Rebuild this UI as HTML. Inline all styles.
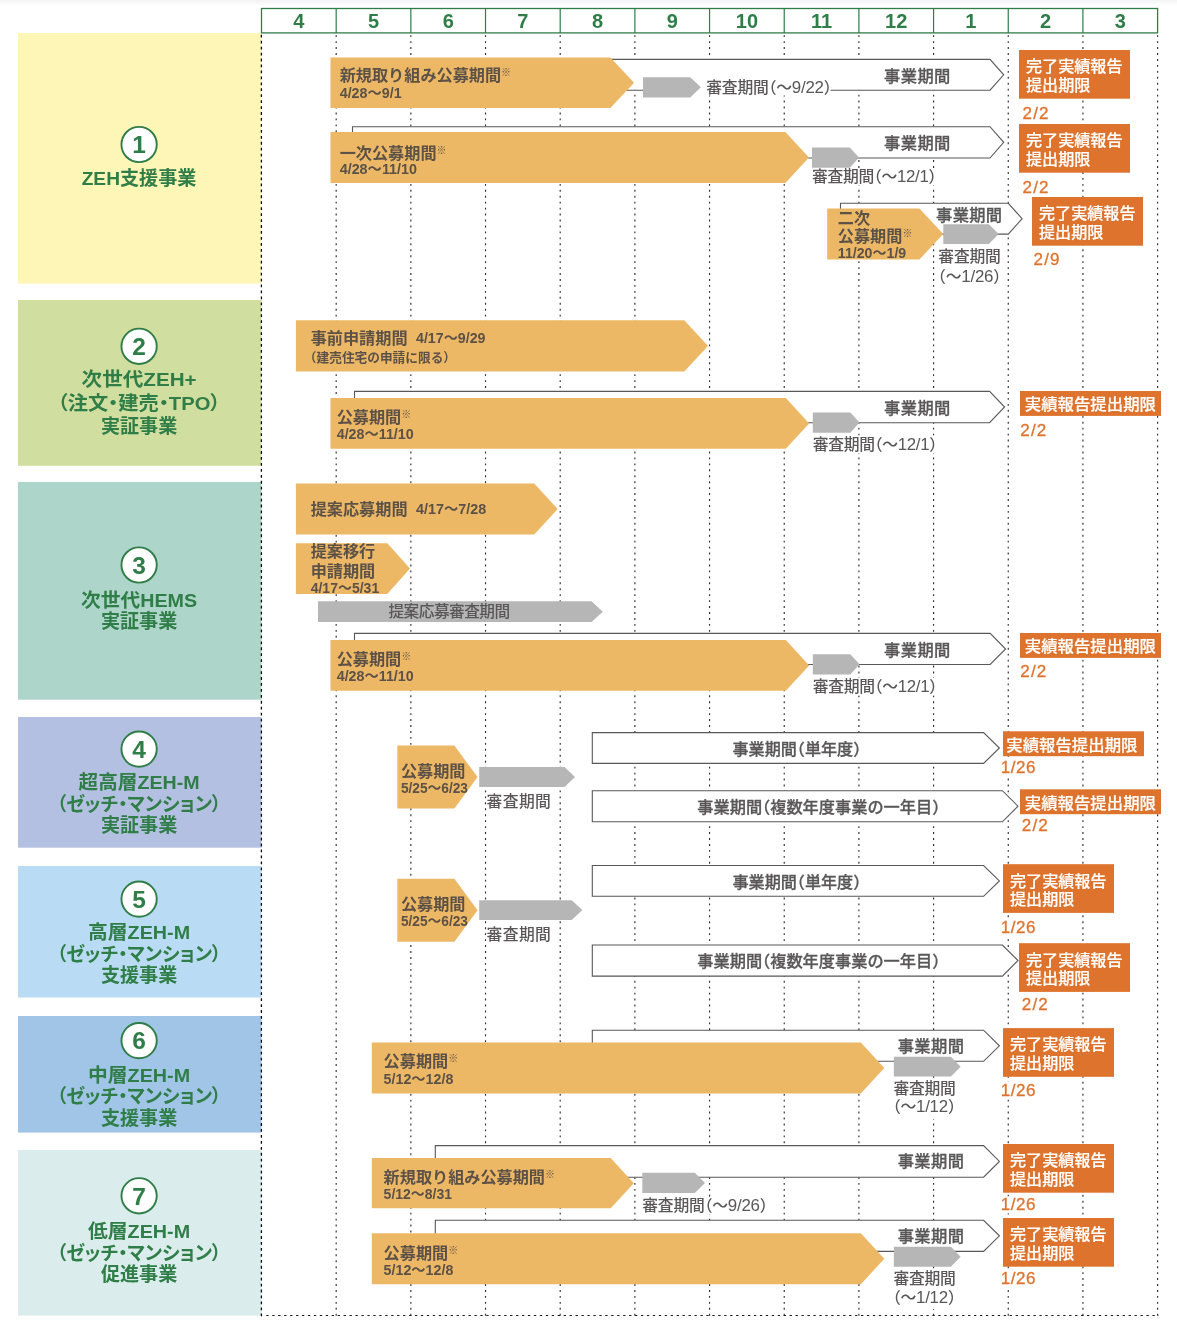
<!DOCTYPE html>
<html lang="ja"><head><meta charset="utf-8"><title>スケジュール</title>
<style>html,body{margin:0;padding:0;background:#fff}svg{display:block}</style></head>
<body>
<svg width="1177" height="1325" viewBox="0 0 1177 1325" font-family='"Liberation Sans","Noto Sans CJK JP",sans-serif'>
<defs><linearGradient id="tg" x1="0" y1="0" x2="0" y2="1"><stop offset="0" stop-color="#f3f3f3"/><stop offset="1" stop-color="#ffffff"/></linearGradient></defs>
<rect x="0" y="0" width="1177" height="6" fill="url(#tg)"/>
<rect x="18" y="33" width="243.5" height="250.6" fill="#fdf6b6"/>
<rect x="18" y="300" width="243.5" height="165.8" fill="#d0de9f"/>
<rect x="18" y="482" width="243.5" height="217.7" fill="#aed5c9"/>
<rect x="18" y="717" width="243.5" height="130.7" fill="#b4c0e1"/>
<rect x="18" y="866" width="243.5" height="131.5" fill="#b9dcf4"/>
<rect x="18" y="1016" width="243.5" height="116.6" fill="#a0c5e7"/>
<rect x="18" y="1150" width="243.5" height="165.5" fill="#daecec"/>
<line x1="261.40" y1="34.8" x2="261.40" y2="1316.4" stroke="#0a0a0a" stroke-width="1.3" stroke-dasharray="2.8 3.147"/>
<line x1="336.18" y1="35.2" x2="336.18" y2="1316" stroke="#2e2e2e" stroke-width="1.15" stroke-dasharray="1.9 4.047"/>
<line x1="410.85" y1="35.2" x2="410.85" y2="1316" stroke="#2e2e2e" stroke-width="1.15" stroke-dasharray="1.9 4.047"/>
<line x1="485.52" y1="35.2" x2="485.52" y2="1316" stroke="#2e2e2e" stroke-width="1.15" stroke-dasharray="1.9 4.047"/>
<line x1="560.20" y1="35.2" x2="560.20" y2="1316" stroke="#2e2e2e" stroke-width="1.15" stroke-dasharray="1.9 4.047"/>
<line x1="634.88" y1="35.2" x2="634.88" y2="1316" stroke="#2e2e2e" stroke-width="1.15" stroke-dasharray="1.9 4.047"/>
<line x1="709.55" y1="35.2" x2="709.55" y2="1316" stroke="#2e2e2e" stroke-width="1.15" stroke-dasharray="1.9 4.047"/>
<line x1="784.23" y1="35.2" x2="784.23" y2="1316" stroke="#2e2e2e" stroke-width="1.15" stroke-dasharray="1.9 4.047"/>
<line x1="858.90" y1="35.2" x2="858.90" y2="1316" stroke="#2e2e2e" stroke-width="1.15" stroke-dasharray="1.9 4.047"/>
<line x1="933.57" y1="35.2" x2="933.57" y2="1316" stroke="#2e2e2e" stroke-width="1.15" stroke-dasharray="1.9 4.047"/>
<line x1="1008.25" y1="35.2" x2="1008.25" y2="1316" stroke="#2e2e2e" stroke-width="1.15" stroke-dasharray="1.9 4.047"/>
<line x1="1082.92" y1="35.2" x2="1082.92" y2="1316" stroke="#2e2e2e" stroke-width="1.15" stroke-dasharray="1.9 4.047"/>
<line x1="1157.60" y1="35.2" x2="1157.60" y2="1316" stroke="#2e2e2e" stroke-width="1.15" stroke-dasharray="1.9 4.047"/>
<line x1="266.30" y1="1315.5" x2="1158.6" y2="1315.5" stroke="#1a1a1a" stroke-width="1.05" stroke-dasharray="2.3 3.647"/>
<rect x="261.5" y="8.5" width="896.1" height="24.4" fill="#fff" stroke="#2f7d47" stroke-width="1.3"/>
<line x1="336.18" y1="8.5" x2="336.18" y2="32.9" stroke="#2f7d47" stroke-width="1.2"/>
<line x1="410.85" y1="8.5" x2="410.85" y2="32.9" stroke="#2f7d47" stroke-width="1.2"/>
<line x1="485.52" y1="8.5" x2="485.52" y2="32.9" stroke="#2f7d47" stroke-width="1.2"/>
<line x1="560.20" y1="8.5" x2="560.20" y2="32.9" stroke="#2f7d47" stroke-width="1.2"/>
<line x1="634.88" y1="8.5" x2="634.88" y2="32.9" stroke="#2f7d47" stroke-width="1.2"/>
<line x1="709.55" y1="8.5" x2="709.55" y2="32.9" stroke="#2f7d47" stroke-width="1.2"/>
<line x1="784.23" y1="8.5" x2="784.23" y2="32.9" stroke="#2f7d47" stroke-width="1.2"/>
<line x1="858.90" y1="8.5" x2="858.90" y2="32.9" stroke="#2f7d47" stroke-width="1.2"/>
<line x1="933.57" y1="8.5" x2="933.57" y2="32.9" stroke="#2f7d47" stroke-width="1.2"/>
<line x1="1008.25" y1="8.5" x2="1008.25" y2="32.9" stroke="#2f7d47" stroke-width="1.2"/>
<line x1="1082.92" y1="8.5" x2="1082.92" y2="32.9" stroke="#2f7d47" stroke-width="1.2"/>
<text x="298.8" y="27.7" font-size="20" fill="#2f7d47" font-weight="700" text-anchor="middle">4</text>
<text x="373.5" y="27.7" font-size="20" fill="#2f7d47" font-weight="700" text-anchor="middle">5</text>
<text x="448.2" y="27.7" font-size="20" fill="#2f7d47" font-weight="700" text-anchor="middle">6</text>
<text x="522.9" y="27.7" font-size="20" fill="#2f7d47" font-weight="700" text-anchor="middle">7</text>
<text x="597.5" y="27.7" font-size="20" fill="#2f7d47" font-weight="700" text-anchor="middle">8</text>
<text x="672.2" y="27.7" font-size="20" fill="#2f7d47" font-weight="700" text-anchor="middle">9</text>
<text x="746.9" y="27.7" font-size="20" fill="#2f7d47" font-weight="700" text-anchor="middle">10</text>
<text x="821.6" y="27.7" font-size="20" fill="#2f7d47" font-weight="700" text-anchor="middle">11</text>
<text x="896.2" y="27.7" font-size="20" fill="#2f7d47" font-weight="700" text-anchor="middle">12</text>
<text x="970.9" y="27.7" font-size="20" fill="#2f7d47" font-weight="700" text-anchor="middle">1</text>
<text x="1045.6" y="27.7" font-size="20" fill="#2f7d47" font-weight="700" text-anchor="middle">2</text>
<text x="1120.3" y="27.7" font-size="20" fill="#2f7d47" font-weight="700" text-anchor="middle">3</text>
<circle cx="139.1" cy="144.5" r="17.65" fill="#fff" stroke="#2f7d47" stroke-width="1.9"/>
<text x="139.1" y="153.3" font-size="24.5" fill="#2f7d47" font-weight="700" text-anchor="middle">1</text>
<text x="139.1" y="185.1" font-size="19.1" fill="#2f7d47" font-weight="700" text-anchor="middle" textLength="114.8" lengthAdjust="spacingAndGlyphs" style="font-feature-settings:'palt'">ZEH支援事業</text>
<circle cx="139.1" cy="346.3" r="17.65" fill="#fff" stroke="#2f7d47" stroke-width="1.9"/>
<text x="139.1" y="355.1" font-size="24.5" fill="#2f7d47" font-weight="700" text-anchor="middle">2</text>
<text x="139.1" y="386.4" font-size="19.1" fill="#2f7d47" font-weight="700" text-anchor="middle" textLength="115.0" lengthAdjust="spacingAndGlyphs" style="font-feature-settings:'palt'">次世代ZEH+</text>
<text x="139.1" y="410.0" font-size="19.1" fill="#2f7d47" font-weight="700" text-anchor="middle" textLength="163.0" lengthAdjust="spacingAndGlyphs" style="font-feature-settings:'palt'">（注文・建売・TPO）</text>
<text x="139.1" y="432.9" font-size="19.1" fill="#2f7d47" font-weight="700" text-anchor="middle" textLength="76.4" lengthAdjust="spacingAndGlyphs" style="font-feature-settings:'palt'">実証事業</text>
<circle cx="139.1" cy="565" r="17.65" fill="#fff" stroke="#2f7d47" stroke-width="1.9"/>
<text x="139.1" y="573.8" font-size="24.5" fill="#2f7d47" font-weight="700" text-anchor="middle">3</text>
<text x="139.1" y="607.4" font-size="19.1" fill="#2f7d47" font-weight="700" text-anchor="middle" textLength="116.0" lengthAdjust="spacingAndGlyphs" style="font-feature-settings:'palt'">次世代HEMS</text>
<text x="139.1" y="628.3" font-size="19.1" fill="#2f7d47" font-weight="700" text-anchor="middle" textLength="76.4" lengthAdjust="spacingAndGlyphs" style="font-feature-settings:'palt'">実証事業</text>
<circle cx="139.1" cy="749.1" r="17.65" fill="#fff" stroke="#2f7d47" stroke-width="1.9"/>
<text x="139.1" y="757.9" font-size="24.5" fill="#2f7d47" font-weight="700" text-anchor="middle">4</text>
<text x="139.1" y="788.9" font-size="19.1" fill="#2f7d47" font-weight="700" text-anchor="middle" textLength="121.0" lengthAdjust="spacingAndGlyphs" style="font-feature-settings:'palt'">超高層ZEH-M</text>
<text x="139.1" y="810.5" font-size="19.1" fill="#2f7d47" font-weight="700" text-anchor="middle" textLength="164.5" lengthAdjust="spacingAndGlyphs" style="font-feature-settings:'palt'">（ゼッチ・マンション）</text>
<text x="139.1" y="832.2" font-size="19.1" fill="#2f7d47" font-weight="700" text-anchor="middle" textLength="76.4" lengthAdjust="spacingAndGlyphs" style="font-feature-settings:'palt'">実証事業</text>
<circle cx="139.1" cy="899.1" r="17.65" fill="#fff" stroke="#2f7d47" stroke-width="1.9"/>
<text x="139.1" y="907.9" font-size="24.5" fill="#2f7d47" font-weight="700" text-anchor="middle">5</text>
<text x="139.1" y="939.4" font-size="19.1" fill="#2f7d47" font-weight="700" text-anchor="middle" textLength="102.0" lengthAdjust="spacingAndGlyphs" style="font-feature-settings:'palt'">高層ZEH-M</text>
<text x="139.1" y="961.0" font-size="19.1" fill="#2f7d47" font-weight="700" text-anchor="middle" textLength="164.5" lengthAdjust="spacingAndGlyphs" style="font-feature-settings:'palt'">（ゼッチ・マンション）</text>
<text x="139.1" y="982.2" font-size="19.1" fill="#2f7d47" font-weight="700" text-anchor="middle" textLength="76.4" lengthAdjust="spacingAndGlyphs" style="font-feature-settings:'palt'">支援事業</text>
<circle cx="139.1" cy="1040.6" r="17.65" fill="#fff" stroke="#2f7d47" stroke-width="1.9"/>
<text x="139.1" y="1049.4" font-size="24.5" fill="#2f7d47" font-weight="700" text-anchor="middle">6</text>
<text x="139.1" y="1081.6" font-size="19.1" fill="#2f7d47" font-weight="700" text-anchor="middle" textLength="102.0" lengthAdjust="spacingAndGlyphs" style="font-feature-settings:'palt'">中層ZEH-M</text>
<text x="139.1" y="1103.3" font-size="19.1" fill="#2f7d47" font-weight="700" text-anchor="middle" textLength="164.5" lengthAdjust="spacingAndGlyphs" style="font-feature-settings:'palt'">（ゼッチ・マンション）</text>
<text x="139.1" y="1124.9" font-size="19.1" fill="#2f7d47" font-weight="700" text-anchor="middle" textLength="76.4" lengthAdjust="spacingAndGlyphs" style="font-feature-settings:'palt'">支援事業</text>
<circle cx="139.1" cy="1195.8" r="17.65" fill="#fff" stroke="#2f7d47" stroke-width="1.9"/>
<text x="139.1" y="1204.6" font-size="24.5" fill="#2f7d47" font-weight="700" text-anchor="middle">7</text>
<text x="139.1" y="1238.1" font-size="19.1" fill="#2f7d47" font-weight="700" text-anchor="middle" textLength="102.0" lengthAdjust="spacingAndGlyphs" style="font-feature-settings:'palt'">低層ZEH-M</text>
<text x="139.1" y="1259.7" font-size="19.1" fill="#2f7d47" font-weight="700" text-anchor="middle" textLength="164.5" lengthAdjust="spacingAndGlyphs" style="font-feature-settings:'palt'">（ゼッチ・マンション）</text>
<text x="139.1" y="1281.4" font-size="19.1" fill="#2f7d47" font-weight="700" text-anchor="middle" textLength="76.4" lengthAdjust="spacingAndGlyphs" style="font-feature-settings:'palt'">促進事業</text>
<path d="M352.5 59.4H990.0L1003.7 74.8L990.0 90.2H352.5Z" fill="#fff" stroke="#595757" stroke-width="1.1"/>
<path d="M352.5 126.7H990.0L1003.7 142.3L990.0 158.0H352.5Z" fill="#fff" stroke="#595757" stroke-width="1.1"/>
<path d="M840.5 203.3H1008.3L1022.1 218.7L1008.3 234.1H840.5Z" fill="#fff" stroke="#595757" stroke-width="1.1"/>
<path d="M354.5 391.4H989.6L1004.6 407.0L989.6 422.7H354.5Z" fill="#fff" stroke="#595757" stroke-width="1.1"/>
<path d="M354.5 633.4H990.2L1005.6 649.0L990.2 664.5H354.5Z" fill="#fff" stroke="#595757" stroke-width="1.1"/>
<path d="M592.3 732.6H983.6L999.4 748.0L983.6 763.4H592.3Z" fill="#fff" stroke="#595757" stroke-width="1.1"/>
<path d="M592.3 790.7H1002.4L1018.0 806.2L1002.4 821.8H592.3Z" fill="#fff" stroke="#595757" stroke-width="1.1"/>
<path d="M592.3 865.5H983.6L999.4 880.9L983.6 896.3H592.3Z" fill="#fff" stroke="#595757" stroke-width="1.1"/>
<path d="M592.3 945.0H1002.4L1018.0 960.5L1002.4 976.1H592.3Z" fill="#fff" stroke="#595757" stroke-width="1.1"/>
<path d="M592.3 1030.2H983.6L999.4 1045.8L983.6 1061.3H592.3Z" fill="#fff" stroke="#595757" stroke-width="1.1"/>
<path d="M435.3 1145.6H983.6L999.4 1161.4L983.6 1177.2H435.3Z" fill="#fff" stroke="#595757" stroke-width="1.1"/>
<path d="M435.3 1220.3H983.6L999.4 1235.8L983.6 1251.4H435.3Z" fill="#fff" stroke="#595757" stroke-width="1.1"/>
<rect x="692" y="80" width="138.5" height="15.5" fill="#fff"/>
<rect x="811" y="168" width="125" height="17.5" fill="#fff"/>
<rect x="811.5" y="435.5" width="125" height="17.5" fill="#fff"/>
<rect x="811.5" y="678" width="125" height="17.5" fill="#fff"/>
<rect x="892" y="1079" width="64" height="40" fill="#fff"/>
<rect x="641" y="1197" width="126" height="17.5" fill="#fff"/>
<rect x="892" y="1269" width="64" height="40" fill="#fff"/>
<path d="M330.5 57.4H610.4L634.1 82.7L610.4 108.0H330.5Z" fill="#edb866"/>
<path d="M330.5 132.0H785.4L809.0 157.5L785.4 183.0H330.5Z" fill="#edb866"/>
<path d="M827.2 208.5H919.4L943.2 234.0L919.4 259.5H827.2Z" fill="#edb866"/>
<path d="M295.9 320.3H684.3L708.0 345.9L684.3 371.5H295.9Z" fill="#edb866"/>
<path d="M330.5 398.0H785.8L809.2 423.4L785.8 448.8H330.5Z" fill="#edb866"/>
<path d="M295.9 483.4H534.2L557.7 508.9L534.2 534.4H295.9Z" fill="#edb866"/>
<path d="M295.9 543.3H387.3L410.0 568.6L387.3 593.9H295.9Z" fill="#edb866"/>
<path d="M330.5 640.0H785.8L809.2 665.4L785.8 690.8H330.5Z" fill="#edb866"/>
<path d="M397.3 745.6H454.4L477.6 777.1L454.4 808.6H397.3Z" fill="#edb866"/>
<path d="M397.3 878.7H454.4L477.6 910.2L454.4 941.8H397.3Z" fill="#edb866"/>
<path d="M371.8 1042.5H860.8L884.3 1068.0L860.8 1093.5H371.8Z" fill="#edb866"/>
<path d="M371.8 1158.0H610.7L633.8 1183.2L610.7 1208.3H371.8Z" fill="#edb866"/>
<path d="M371.8 1233.3H860.8L884.3 1258.8L860.8 1284.2H371.8Z" fill="#edb866"/>
<path d="M643.0 77.2H690.2L700.9 87.3L690.2 97.4H643.0Z" fill="#b5b6b5"/>
<path d="M812.0 147.4H849.8L859.0 157.6L849.8 167.7H812.0Z" fill="#b5b6b5"/>
<path d="M943.3 224.2H988.8L998.7 234.1L988.8 243.9H943.3Z" fill="#b5b6b5"/>
<path d="M812.8 412.6H850.3L859.5 422.6L850.3 432.7H812.8Z" fill="#b5b6b5"/>
<path d="M318.0 601.3H591.5L602.8 611.7L591.5 622.1H318.0Z" fill="#b5b6b5"/>
<path d="M812.8 654.3H850.3L859.5 664.3L850.3 674.4H812.8Z" fill="#b5b6b5"/>
<path d="M479.2 767.0H564.5L575.0 777.0L564.5 786.9H479.2Z" fill="#b5b6b5"/>
<path d="M479.2 900.2H571.7L582.4 910.1L571.7 920.1H479.2Z" fill="#b5b6b5"/>
<path d="M893.8 1056.7H950.9L960.6 1066.7L950.9 1076.6H893.8Z" fill="#b5b6b5"/>
<path d="M642.3 1172.8H694.8L705.0 1182.9L694.8 1193.0H642.3Z" fill="#b5b6b5"/>
<path d="M893.8 1246.8H950.9L960.6 1256.8L950.9 1266.7H893.8Z" fill="#b5b6b5"/>
<text x="339.7" y="80.6" font-size="16.15" font-weight="700" fill="#5c5147">新規取り組み公募期間<tspan font-size="10" font-weight="300" dy="-5">※</tspan></text>
<text x="339.7" y="97.5" font-size="14.4" fill="#5c5147" font-weight="700" textLength="62.0" lengthAdjust="spacingAndGlyphs">4/28～9/1</text>
<text x="339.7" y="159.1" font-size="16.15" font-weight="700" fill="#5c5147">一次公募期間<tspan font-size="10" font-weight="300" dy="-5">※</tspan></text>
<text x="339.7" y="174.2" font-size="14.4" fill="#5c5147" font-weight="700" textLength="77.3" lengthAdjust="spacingAndGlyphs">4/28～11/10</text>
<text x="837.8" y="223.5" font-size="16.15" font-weight="700" fill="#5c5147">二次</text>
<text x="837.8" y="241.6" font-size="16.15" font-weight="700" fill="#5c5147">公募期間<tspan font-size="10" font-weight="300" dy="-5">※</tspan></text>
<text x="837.8" y="258.3" font-size="14.4" fill="#5c5147" font-weight="700" textLength="68.4" lengthAdjust="spacingAndGlyphs">11/20～1/9</text>
<text x="310.7" y="343.5" font-size="16.15" font-weight="700" fill="#5c5147">事前申請期間</text>
<text x="416.0" y="343.0" font-size="14.4" fill="#5c5147" font-weight="700" textLength="69.5" lengthAdjust="spacingAndGlyphs">4/17～9/29</text>
<text x="310.2" y="361.9" font-size="12.6" fill="#5c5147" font-weight="700" textLength="139.5" lengthAdjust="spacingAndGlyphs" style="font-feature-settings:'halt'">（建売住宅の申請に限る）</text>
<text x="336.7" y="422.8" font-size="16.15" font-weight="700" fill="#5c5147">公募期間<tspan font-size="10" font-weight="300" dy="-5">※</tspan></text>
<text x="336.7" y="439.4" font-size="14.4" fill="#5c5147" font-weight="700" textLength="77.0" lengthAdjust="spacingAndGlyphs">4/28～11/10</text>
<text x="310.7" y="514.5" font-size="16.15" font-weight="700" fill="#5c5147">提案応募期間</text>
<text x="416.0" y="514.0" font-size="14.4" fill="#5c5147" font-weight="700" textLength="70.3" lengthAdjust="spacingAndGlyphs">4/17～7/28</text>
<text x="310.7" y="557.4" font-size="16.15" font-weight="700" fill="#5c5147">提案移行</text>
<text x="310.7" y="576.5" font-size="16.15" font-weight="700" fill="#5c5147">申請期間</text>
<text x="310.7" y="593.2" font-size="14.4" fill="#5c5147" font-weight="700" textLength="68.5" lengthAdjust="spacingAndGlyphs">4/17～5/31</text>
<text x="388.4" y="616.5" font-size="15.7" fill="#595757" font-weight="500" textLength="121.8" lengthAdjust="spacing">提案応募審査期間</text>
<text x="336.7" y="664.8" font-size="16.15" font-weight="700" fill="#5c5147">公募期間<tspan font-size="10" font-weight="300" dy="-5">※</tspan></text>
<text x="336.7" y="681.2" font-size="14.4" fill="#5c5147" font-weight="700" textLength="77.0" lengthAdjust="spacingAndGlyphs">4/28～11/10</text>
<text x="400.9" y="776.9" font-size="16.15" font-weight="700" fill="#5c5147">公募期間</text>
<text x="400.9" y="793.3" font-size="14.4" fill="#5c5147" font-weight="700" textLength="67.1" lengthAdjust="spacingAndGlyphs">5/25～6/23</text>
<text x="400.9" y="909.6" font-size="16.15" font-weight="700" fill="#5c5147">公募期間</text>
<text x="400.9" y="926.3" font-size="14.4" fill="#5c5147" font-weight="700" textLength="67.1" lengthAdjust="spacingAndGlyphs">5/25～6/23</text>
<text x="383.6" y="1067.2" font-size="16.15" font-weight="700" fill="#5c5147">公募期間<tspan font-size="10" font-weight="300" dy="-5">※</tspan></text>
<text x="383.6" y="1084.3" font-size="14.4" fill="#5c5147" font-weight="700" textLength="69.8" lengthAdjust="spacingAndGlyphs">5/12～12/8</text>
<text x="383.6" y="1182.6" font-size="16.15" font-weight="700" fill="#5c5147">新規取り組み公募期間<tspan font-size="10" font-weight="300" dy="-5">※</tspan></text>
<text x="383.6" y="1199.2" font-size="14.4" fill="#5c5147" font-weight="700" textLength="68.5" lengthAdjust="spacingAndGlyphs">5/12～8/31</text>
<text x="383.6" y="1258.5" font-size="16.15" font-weight="700" fill="#5c5147">公募期間<tspan font-size="10" font-weight="300" dy="-5">※</tspan></text>
<text x="383.6" y="1274.9" font-size="14.4" fill="#5c5147" font-weight="700" textLength="69.8" lengthAdjust="spacingAndGlyphs">5/12～12/8</text>
<text x="884.1" y="82.0" font-size="16.3" fill="#595757" font-weight="500" stroke="#595757" stroke-width="0.3" textLength="66.3" lengthAdjust="spacing">事業期間</text>
<text x="884.1" y="148.8" font-size="16.3" fill="#595757" font-weight="500" stroke="#595757" stroke-width="0.3" textLength="66.3" lengthAdjust="spacing">事業期間</text>
<text x="936.1" y="221.1" font-size="16.3" fill="#595757" font-weight="500" stroke="#595757" stroke-width="0.3" textLength="65.9" lengthAdjust="spacing">事業期間</text>
<text x="884.1" y="414.0" font-size="16.3" fill="#595757" font-weight="500" stroke="#595757" stroke-width="0.3" textLength="66.3" lengthAdjust="spacing">事業期間</text>
<text x="884.1" y="655.7" font-size="16.3" fill="#595757" font-weight="500" stroke="#595757" stroke-width="0.3" textLength="66.3" lengthAdjust="spacing">事業期間</text>
<text x="897.7" y="1052.0" font-size="16.3" fill="#595757" font-weight="500" stroke="#595757" stroke-width="0.3" textLength="66.3" lengthAdjust="spacing">事業期間</text>
<text x="897.7" y="1167.4" font-size="16.3" fill="#595757" font-weight="500" stroke="#595757" stroke-width="0.3" textLength="66.3" lengthAdjust="spacing">事業期間</text>
<text x="897.7" y="1241.8" font-size="16.3" fill="#595757" font-weight="500" stroke="#595757" stroke-width="0.3" textLength="66.3" lengthAdjust="spacing">事業期間</text>
<text x="732.5" y="755.1" font-size="16.1" fill="#595757" font-weight="500" stroke="#595757" stroke-width="0.3" style="font-feature-settings:'halt'">事業期間（単年度）</text>
<text x="732.5" y="887.6" font-size="16.1" fill="#595757" font-weight="500" stroke="#595757" stroke-width="0.3" style="font-feature-settings:'halt'">事業期間（単年度）</text>
<text x="697.3" y="813.3" font-size="16.1" fill="#595757" font-weight="500" textLength="243.0" lengthAdjust="spacingAndGlyphs" stroke="#595757" stroke-width="0.3" style="font-feature-settings:'halt'">事業期間（複数年度事業の一年目）</text>
<text x="697.3" y="967.1" font-size="16.1" fill="#595757" font-weight="500" textLength="243.0" lengthAdjust="spacingAndGlyphs" stroke="#595757" stroke-width="0.3" style="font-feature-settings:'halt'">事業期間（複数年度事業の一年目）</text>
<text x="706.3" y="92.7" font-size="15.8" fill="#595757" font-weight="500" style="font-feature-settings:'halt'" textLength="125.3" lengthAdjust="spacing">審査期間（～<tspan font-size="16.9">9/22</tspan>）</text>
<text x="812.0" y="182.2" font-size="15.8" fill="#595757" font-weight="500" style="font-feature-settings:'halt'" textLength="124.4" lengthAdjust="spacing">審査期間（～<tspan font-size="16.9">12/1</tspan>）</text>
<text x="938.3" y="262.2" font-size="15.8" fill="#595757" font-weight="500" style="font-feature-settings:'halt'" textLength="62.6" lengthAdjust="spacing">審査期間</text>
<text x="938.0" y="281.9" font-size="15.8" fill="#595757" font-weight="500" style="font-feature-settings:'halt'" textLength="63.2" lengthAdjust="spacing">（～<tspan font-size="16.9">1/26</tspan>）</text>
<text x="812.8" y="450.1" font-size="15.8" fill="#595757" font-weight="500" style="font-feature-settings:'halt'" textLength="124.4" lengthAdjust="spacing">審査期間（～<tspan font-size="16.9">12/1</tspan>）</text>
<text x="812.8" y="692.4" font-size="15.8" fill="#595757" font-weight="500" style="font-feature-settings:'halt'" textLength="124.4" lengthAdjust="spacing">審査期間（～<tspan font-size="16.9">12/1</tspan>）</text>
<text x="486.6" y="807.3" font-size="15.8" fill="#595757" font-weight="500" style="font-feature-settings:'halt'" textLength="64.3" lengthAdjust="spacing">審査期間</text>
<text x="486.6" y="940.2" font-size="15.8" fill="#595757" font-weight="500" style="font-feature-settings:'halt'" textLength="64.3" lengthAdjust="spacing">審査期間</text>
<text x="893.4" y="1093.7" font-size="15.8" fill="#595757" font-weight="500" style="font-feature-settings:'halt'" textLength="62.5" lengthAdjust="spacing">審査期間</text>
<text x="892.8" y="1112.3" font-size="15.8" fill="#595757" font-weight="500" style="font-feature-settings:'halt'" textLength="63.0" lengthAdjust="spacing">（～<tspan font-size="16.9">1/12</tspan>）</text>
<text x="642.3" y="1211.4" font-size="15.8" fill="#595757" font-weight="500" style="font-feature-settings:'halt'" textLength="125.3" lengthAdjust="spacing">審査期間（～<tspan font-size="16.9">9/26</tspan>）</text>
<text x="893.4" y="1283.8" font-size="15.8" fill="#595757" font-weight="500" style="font-feature-settings:'halt'" textLength="62.5" lengthAdjust="spacing">審査期間</text>
<text x="892.8" y="1303.3" font-size="15.8" fill="#595757" font-weight="500" style="font-feature-settings:'halt'" textLength="63.0" lengthAdjust="spacing">（～<tspan font-size="16.9">1/12</tspan>）</text>
<rect x="1019.0" y="50.0" width="111" height="48.7" fill="#de732d"/>
<text x="1026.0" y="72.3" font-size="16.1" fill="#fff" font-weight="500" stroke="#fff" stroke-width="0.2">完了実績報告</text>
<text x="1026.0" y="91.1" font-size="16.1" fill="#fff" font-weight="500" stroke="#fff" stroke-width="0.2">提出期限</text>
<rect x="1022.0" y="105.1" width="26.5" height="17" fill="#fff"/>
<text x="1022.5" y="118.8" font-size="17" fill="#de732d" font-weight="400" letter-spacing="1.2" stroke="#de732d" stroke-width="0.3">2/2</text>
<rect x="1019.0" y="124.0" width="111" height="48.7" fill="#de732d"/>
<text x="1026.0" y="146.3" font-size="16.1" fill="#fff" font-weight="500" stroke="#fff" stroke-width="0.2">完了実績報告</text>
<text x="1026.0" y="165.1" font-size="16.1" fill="#fff" font-weight="500" stroke="#fff" stroke-width="0.2">提出期限</text>
<rect x="1022.0" y="179.0" width="26.5" height="17" fill="#fff"/>
<text x="1022.5" y="192.7" font-size="17" fill="#de732d" font-weight="400" letter-spacing="1.2" stroke="#de732d" stroke-width="0.3">2/2</text>
<rect x="1032.0" y="197.0" width="111" height="48.7" fill="#de732d"/>
<text x="1039.0" y="219.3" font-size="16.1" fill="#fff" font-weight="500" stroke="#fff" stroke-width="0.2">完了実績報告</text>
<text x="1039.0" y="238.1" font-size="16.1" fill="#fff" font-weight="500" stroke="#fff" stroke-width="0.2">提出期限</text>
<rect x="1033.0" y="250.8" width="26.5" height="17" fill="#fff"/>
<text x="1033.5" y="264.5" font-size="17" fill="#de732d" font-weight="400" letter-spacing="1.2" stroke="#de732d" stroke-width="0.3">2/9</text>
<rect x="1020.0" y="391.0" width="141" height="24.9" fill="#de732d"/>
<text x="1024.8" y="410.2" font-size="16.4" fill="#fff" font-weight="500" stroke="#fff" stroke-width="0.2">実績報告提出期限</text>
<rect x="1019.8" y="422.0" width="26.5" height="17" fill="#fff"/>
<text x="1020.3" y="435.7" font-size="17" fill="#de732d" font-weight="400" letter-spacing="1.2" stroke="#de732d" stroke-width="0.3">2/2</text>
<rect x="1020.0" y="633.0" width="141" height="24.9" fill="#de732d"/>
<text x="1024.8" y="652.2" font-size="16.4" fill="#fff" font-weight="500" stroke="#fff" stroke-width="0.2">実績報告提出期限</text>
<rect x="1019.8" y="663.0" width="26.5" height="17" fill="#fff"/>
<text x="1020.3" y="676.7" font-size="17" fill="#de732d" font-weight="400" letter-spacing="1.2" stroke="#de732d" stroke-width="0.3">2/2</text>
<rect x="1003.0" y="731.3" width="141" height="24.9" fill="#de732d"/>
<text x="1006.3" y="750.5" font-size="16.4" fill="#fff" font-weight="500" stroke="#fff" stroke-width="0.2">実績報告提出期限</text>
<rect x="1000.3" y="758.8" width="34.5" height="17" fill="#fff"/>
<text x="1000.8" y="772.5" font-size="17" fill="#de732d" font-weight="400" letter-spacing="0.55" stroke="#de732d" stroke-width="0.3">1/26</text>
<rect x="1020.0" y="789.3" width="141" height="24.9" fill="#de732d"/>
<text x="1024.8" y="808.5" font-size="16.4" fill="#fff" font-weight="500" stroke="#fff" stroke-width="0.2">実績報告提出期限</text>
<rect x="1021.3" y="817.5" width="26.5" height="17" fill="#fff"/>
<text x="1021.8" y="831.2" font-size="17" fill="#de732d" font-weight="400" letter-spacing="1.2" stroke="#de732d" stroke-width="0.3">2/2</text>
<rect x="1003.0" y="864.2" width="111" height="48.7" fill="#de732d"/>
<text x="1010.0" y="886.5" font-size="16.1" fill="#fff" font-weight="500" stroke="#fff" stroke-width="0.2">完了実績報告</text>
<text x="1010.0" y="905.3" font-size="16.1" fill="#fff" font-weight="500" stroke="#fff" stroke-width="0.2">提出期限</text>
<rect x="1000.3" y="918.8" width="34.5" height="17" fill="#fff"/>
<text x="1000.8" y="932.5" font-size="17" fill="#de732d" font-weight="400" letter-spacing="0.55" stroke="#de732d" stroke-width="0.3">1/26</text>
<rect x="1019.0" y="943.2" width="111" height="48.7" fill="#de732d"/>
<text x="1026.0" y="965.5" font-size="16.1" fill="#fff" font-weight="500" stroke="#fff" stroke-width="0.2">完了実績報告</text>
<text x="1026.0" y="984.3" font-size="16.1" fill="#fff" font-weight="500" stroke="#fff" stroke-width="0.2">提出期限</text>
<rect x="1021.3" y="995.8" width="26.5" height="17" fill="#fff"/>
<text x="1021.8" y="1009.5" font-size="17" fill="#de732d" font-weight="400" letter-spacing="1.2" stroke="#de732d" stroke-width="0.3">2/2</text>
<rect x="1003.0" y="1028.1" width="111" height="48.7" fill="#de732d"/>
<text x="1010.0" y="1050.4" font-size="16.1" fill="#fff" font-weight="500" stroke="#fff" stroke-width="0.2">完了実績報告</text>
<text x="1010.0" y="1069.2" font-size="16.1" fill="#fff" font-weight="500" stroke="#fff" stroke-width="0.2">提出期限</text>
<rect x="1000.3" y="1081.9" width="34.5" height="17" fill="#fff"/>
<text x="1000.8" y="1095.6" font-size="17" fill="#de732d" font-weight="400" letter-spacing="0.55" stroke="#de732d" stroke-width="0.3">1/26</text>
<rect x="1003.0" y="1144.0" width="111" height="48.7" fill="#de732d"/>
<text x="1010.0" y="1166.3" font-size="16.1" fill="#fff" font-weight="500" stroke="#fff" stroke-width="0.2">完了実績報告</text>
<text x="1010.0" y="1185.1" font-size="16.1" fill="#fff" font-weight="500" stroke="#fff" stroke-width="0.2">提出期限</text>
<rect x="1000.3" y="1196.3" width="34.5" height="17" fill="#fff"/>
<text x="1000.8" y="1210.0" font-size="17" fill="#de732d" font-weight="400" letter-spacing="0.55" stroke="#de732d" stroke-width="0.3">1/26</text>
<rect x="1003.0" y="1218.0" width="111" height="48.7" fill="#de732d"/>
<text x="1010.0" y="1240.3" font-size="16.1" fill="#fff" font-weight="500" stroke="#fff" stroke-width="0.2">完了実績報告</text>
<text x="1010.0" y="1259.1" font-size="16.1" fill="#fff" font-weight="500" stroke="#fff" stroke-width="0.2">提出期限</text>
<rect x="1000.3" y="1270.0" width="34.5" height="17" fill="#fff"/>
<text x="1000.8" y="1283.7" font-size="17" fill="#de732d" font-weight="400" letter-spacing="0.55" stroke="#de732d" stroke-width="0.3">1/26</text>
</svg>
</body></html>
